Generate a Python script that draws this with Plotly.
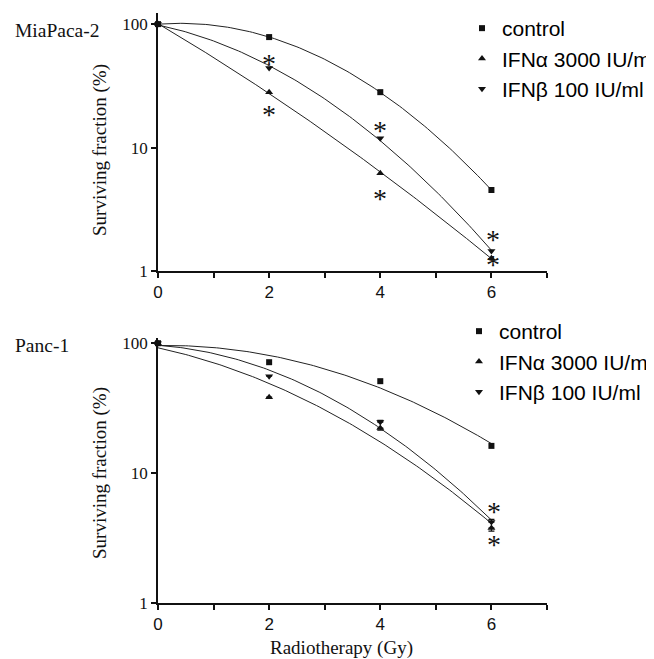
import numpy as np
import plotly.graph_objects as go

# ---------------- data ----------------
dose = [0, 2, 4, 6]

mia_control = [100, 78.5, 28.1, 4.53]
mia_ifna = [100, 28.1, 6.2, 1.27]
mia_ifnb = [100, 44.0, 11.9, 1.45]

panc_control = [100, 71.4, 51.0, 16.2]
panc_ifna = [100, 38.4, 22.2, 3.78]
panc_ifnb = [100, 55.7, 24.7, 4.2]
panc_ifna_err_minus = [None, None, 0.8, 0.2]
panc_ifnb_err_plus = [None, None, 0.8, 0.2]

# significance asterisks (dose, surviving fraction)
mia_star_x = [2, 2, 4, 4, 6.03, 6.03]
mia_star_y = [50.1, 19.4, 14.4, 4.05, 1.88, 1.18]
panc_star_x = [6.05, 6.05]
panc_star_y = [5.28, 2.9]

series_names = ["control", "IFN\u03b1 3000 IU/ml", "IFN\u03b2 100 IU/ml"]
symbols = ["square", "triangle-up", "triangle-down"]
sizes = [6, 7, 7]

x_tickvals = [0, 1, 2, 3, 4, 5, 6, 7]
x_ticktext = ["0", "", "2", "", "4", "", "6", ""]
y_tickvals = [1, 10, 100]
y_ticktext = ["1", "10", "100"]

# ---------------- layout geometry ----------------
# the page body has an 8px margin; the figure is sized so that the plot
# area lands where it is in the reference picture
OFF = 8
W, H = 654 - OFF, 659 - OFF
ML, MR, MT, MB = 158 - OFF, 107, 13 - OFF, 56
PW = W - ML - MR
PH = H - MT - MB
PLOT_LEFT = ML + OFF
PLOT_BOTTOM = OFF + H - MB


def px_x(p):
    return (p - PLOT_LEFT) / PW


def px_y(p):
    return (PLOT_BOTTOM - p) / PH


top_dom = [px_y(271), 1.0]
bot_dom = [0.0, px_y(338)]

fig = go.Figure()


def lq_curve(d, s):
    d = np.asarray(d, float)
    ln_s = np.log(np.asarray(s, float))
    coef = np.polyfit(d, ln_s, 2)
    xs = np.linspace(0, max(d), 121)
    return xs, np.exp(np.polyval(coef, xs))


panels = [
    ("x", "y", "legend", [mia_control, mia_ifna, mia_ifnb], [None, None, None], [None, None, None]),
    ("x2", "y2", "legend2", [panc_control, panc_ifna, panc_ifnb],
     [None, None, panc_ifnb_err_plus], [None, panc_ifna_err_minus, None]),
]

for xa, ya, leg, data, eplus, eminus in panels:
    for i, vals in enumerate(data):
        cx, cy = lq_curve(dose, vals)
        fig.add_trace(go.Scatter(x=cx, y=cy, mode="lines", xaxis=xa, yaxis=ya,
                                 line=dict(color="#222", width=1), showlegend=False,
                                 hoverinfo="skip"))
    for i, vals in enumerate(data):
        err = None
        if eplus[i] is not None or eminus[i] is not None:
            err = dict(type="data", symmetric=False,
                       array=eplus[i] if eplus[i] is not None else [None] * len(dose),
                       arrayminus=eminus[i] if eminus[i] is not None else [None] * len(dose),
                       color="#111", thickness=1.2, width=3)
        fig.add_trace(go.Scatter(x=dose, y=vals, mode="markers", xaxis=xa, yaxis=ya,
                                 name=series_names[i], legend=leg,
                                 legendgroup=leg + str(i),
                                 marker=dict(symbol=symbols[i], size=sizes[i], color="#111"),
                                 error_y=err, cliponaxis=False))

annotations = []
for xs_, ys_, xr, yr in [(mia_star_x, mia_star_y, "x", "y"), (panc_star_x, panc_star_y, "x2", "y2")]:
    for sx, sy in zip(xs_, ys_):
        annotations.append(dict(x=sx, y=np.log10(sy), xref=xr, yref=yr, text="*",
                                showarrow=False, yshift=-2,
                                font=dict(family="Liberation Serif", size=28, color="#111")))

serif = "Liberation Serif"
annotations += [
    dict(x=px_x(13), y=px_y(31), xref="paper", yref="paper", text="MiaPaca-2",
         xanchor="left", yanchor="middle", showarrow=False,
         font=dict(family=serif, size=19.5, color="#111")),
    dict(x=px_x(13), y=px_y(345), xref="paper", yref="paper", text="Panc-1",
         xanchor="left", yanchor="middle", showarrow=False,
         font=dict(family=serif, size=19.5, color="#111")),
    dict(x=px_x(100), y=px_y(150), xref="paper", yref="paper", text="Surviving fraction (%)",
         textangle=-90, xanchor="center", yanchor="middle", showarrow=False,
         font=dict(family=serif, size=19, color="#111")),
    dict(x=px_x(100), y=px_y(473), xref="paper", yref="paper", text="Surviving fraction (%)",
         textangle=-90, xanchor="center", yanchor="middle", showarrow=False,
         font=dict(family=serif, size=19, color="#111")),
    dict(x=px_x(341), y=px_y(648), xref="paper", yref="paper", text="Radiotherapy (Gy)",
         xanchor="center", yanchor="middle", showarrow=False,
         font=dict(family=serif, size=19, color="#111")),
]

xaxis_common = dict(range=[0, 7], tickmode="array", tickvals=x_tickvals, ticktext=x_ticktext,
                    ticks="outside", ticklen=5, tickwidth=1.5, tickcolor="#111",
                    showline=True, linecolor="#111", linewidth=1.5, showgrid=False,
                    zeroline=False,
                    tickfont=dict(family="Liberation Sans", size=17, color="#111"))
yaxis_common = dict(type="log", tickmode="array", tickvals=y_tickvals, ticktext=y_ticktext,
                    ticks="outside", ticklen=5, tickwidth=1.5, tickcolor="#111",
                    showline=True, linecolor="#111", linewidth=1.5, showgrid=False,
                    zeroline=False,
                    tickfont=dict(family=serif, size=17, color="#111"))

legend_common = dict(font=dict(family="Liberation Sans", size=21, color="#000"),
                     bgcolor="rgba(0,0,0,0)", borderwidth=0, itemwidth=30,
                     tracegroupgap=0, xanchor="left", yanchor="top")

fig.update_layout(
    width=W, height=H,
    margin=dict(l=ML, r=MR, t=MT, b=MB, autoexpand=False),
    paper_bgcolor="white", plot_bgcolor="white",
    xaxis=dict(domain=[0, 1], anchor="y", **xaxis_common),
    yaxis=dict(domain=top_dom, anchor="x", range=[0, 2.09], **yaxis_common),
    xaxis2=dict(domain=[0, 1], anchor="y2", **xaxis_common),
    yaxis2=dict(domain=bot_dom, anchor="x2", range=[0, 2.04], **yaxis_common),
    legend=dict(x=px_x(462), y=px_y(8), **legend_common),
    legend2=dict(x=px_x(459), y=px_y(311), **legend_common),
    annotations=annotations,
    showlegend=True,
)

fig.write_html("out.html")
